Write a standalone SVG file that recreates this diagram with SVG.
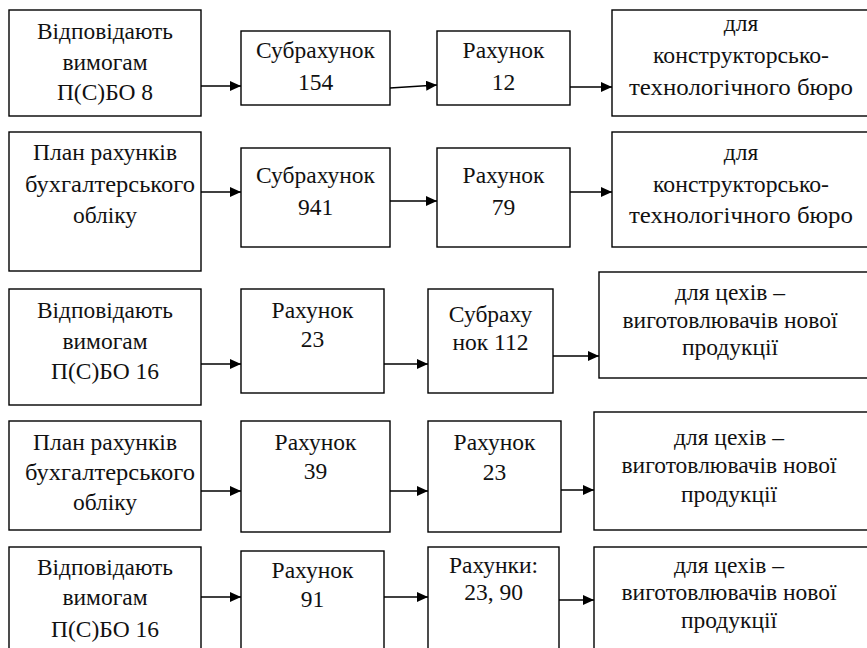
<svg xmlns="http://www.w3.org/2000/svg" width="867" height="648" viewBox="0 0 867 648">
<style>
rect{fill:#fff;stroke:#000;stroke-width:1.4}
text{font-family:'Liberation Serif','Liberation Sans',sans-serif;font-size:23.5px;fill:#111;text-anchor:middle}
.c line{stroke:#000;stroke-width:1.5;fill:none;marker-end:url(#ah)}
</style>
<defs>
<marker id="ah" markerUnits="userSpaceOnUse" markerWidth="12" markerHeight="10" refX="11" refY="5" orient="auto">
<path d="M0,0 L11,5 L0,10 z" fill="#000"/>
</marker>
</defs>
<rect x="0" y="0" width="867" height="648" style="stroke:none"/>

<g id="r1a"><rect x="9" y="10" width="192" height="106"/><text x="105" y="39" textLength="136" lengthAdjust="spacingAndGlyphs">Відповідають</text><text x="105" y="70">вимогам</text><text x="105" y="100">П(С)БО 8</text></g>
<g id="r1b"><rect x="241" y="31" width="149" height="74"/><text x="315.5" y="58">Субрахунок</text><text x="315.5" y="90">154</text></g>
<g id="r1c"><rect x="437" y="31" width="133" height="74"/><text x="503.5" y="58">Рахунок</text><text x="503.5" y="90">12</text></g>
<g id="r1d"><rect x="612" y="10" width="260" height="106"/><text x="741" y="31">для</text><text x="741" y="63" textLength="176" lengthAdjust="spacingAndGlyphs">конструкторсько-</text><text x="741" y="95" textLength="224" lengthAdjust="spacingAndGlyphs">технологічного бюро</text></g>

<g id="r2a"><rect x="9" y="132" width="192" height="139"/><text x="105" y="160">План рахунків</text><text x="110" y="192" textLength="170" lengthAdjust="spacingAndGlyphs">бухгалтерського</text><text x="105" y="223">обліку</text></g>
<g id="r2b"><rect x="241" y="148" width="149" height="99"/><text x="315.5" y="183">Субрахунок</text><text x="315.5" y="215">941</text></g>
<g id="r2c"><rect x="437" y="148" width="133" height="99"/><text x="503.5" y="183">Рахунок</text><text x="503.5" y="215">79</text></g>
<g id="r2d"><rect x="612" y="132" width="260" height="115"/><text x="741" y="160">для</text><text x="741" y="192" textLength="176" lengthAdjust="spacingAndGlyphs">конструкторсько-</text><text x="741" y="223" textLength="224" lengthAdjust="spacingAndGlyphs">технологічного бюро</text></g>

<g id="r3a"><rect x="9" y="289" width="192" height="116"/><text x="105" y="318" textLength="136" lengthAdjust="spacingAndGlyphs">Відповідають</text><text x="105" y="349">вимогам</text><text x="105" y="379">П(С)БО 16</text></g>
<g id="r3b"><rect x="241" y="289" width="143" height="104"/><text x="312.5" y="318">Рахунок</text><text x="312.5" y="347">23</text></g>
<g id="r3c"><rect x="428" y="289" width="125" height="104"/><text x="490.5" y="322">Субраху</text><text x="490.5" y="350">нок 112</text></g>
<g id="r3d"><rect x="599" y="272" width="273" height="106"/><text x="730" y="300">для цехів –</text><text x="730" y="328" textLength="215" lengthAdjust="spacingAndGlyphs">виготовлювачів нової</text><text x="730" y="355">продукції</text></g>

<g id="r4a"><rect x="9" y="421" width="192" height="109"/><text x="105" y="450">План рахунків</text><text x="110" y="480" textLength="170" lengthAdjust="spacingAndGlyphs">бухгалтерського</text><text x="105" y="510">обліку</text></g>
<g id="r4b"><rect x="241" y="421" width="149" height="111"/><text x="315.5" y="450">Рахунок</text><text x="315.5" y="479">39</text></g>
<g id="r4c"><rect x="428" y="421" width="133" height="111"/><text x="494.5" y="450">Рахунок</text><text x="494.5" y="480">23</text></g>
<g id="r4d"><rect x="594" y="412" width="278" height="118"/><text x="729" y="445">для цехів –</text><text x="729" y="473" textLength="215" lengthAdjust="spacingAndGlyphs">виготовлювачів нової</text><text x="729" y="502">продукції</text></g>

<g id="r5a"><rect x="9" y="547" width="192" height="110"/><text x="105" y="575" textLength="136" lengthAdjust="spacingAndGlyphs">Відповідають</text><text x="105" y="605">вимогам</text><text x="105" y="637">П(С)БО 16</text></g>
<g id="r5b"><rect x="241" y="551" width="143" height="106"/><text x="312.5" y="578">Рахунок</text><text x="312.5" y="607">91</text></g>
<g id="r5c"><rect x="428" y="547" width="131" height="110"/><text x="493.5" y="573">Рахунки:</text><text x="493.5" y="600">23, 90</text></g>
<g id="r5d"><rect x="594" y="547" width="278" height="110"/><text x="729" y="573">для цехів –</text><text x="729" y="600" textLength="215" lengthAdjust="spacingAndGlyphs">виготовлювачів нової</text><text x="729" y="628">продукції</text></g>

<g id="connectors" class="c">
<line x1="201" y1="86" x2="241" y2="86"/>
<line x1="390" y1="88" x2="437" y2="85"/>
<line x1="570" y1="87" x2="612" y2="87"/>
<line x1="201" y1="192" x2="241" y2="192"/>
<line x1="390" y1="201" x2="437" y2="201"/>
<line x1="570" y1="192" x2="612" y2="192"/>
<line x1="201" y1="364" x2="241" y2="364"/>
<line x1="384" y1="364" x2="428" y2="364"/>
<line x1="553" y1="356" x2="599" y2="356"/>
<line x1="201" y1="491" x2="241" y2="491"/>
<line x1="390" y1="491" x2="428" y2="491"/>
<line x1="561" y1="490" x2="594" y2="490"/>
<line x1="201" y1="597" x2="241" y2="597"/>
<line x1="384" y1="597" x2="428" y2="597"/>
<line x1="559" y1="600" x2="594" y2="600"/>
</g>
</svg>
